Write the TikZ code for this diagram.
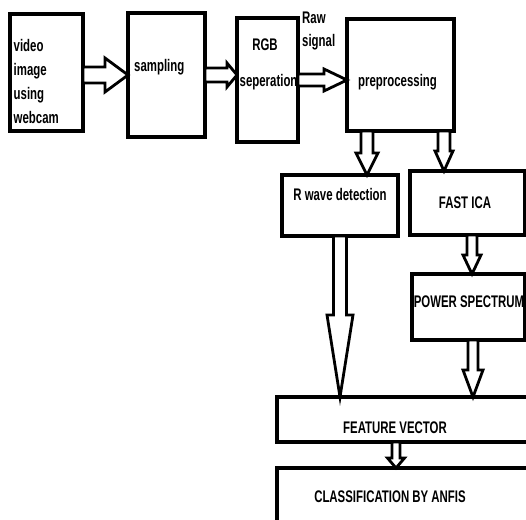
\documentclass[tikz,border=0pt]{standalone}
\usepackage{fontspec}
\setmainfont{Liberation Sans}[FakeStretch=0.68]
\usetikzlibrary{calc}
\newcommand\rblock[5]{% start, end, shaft half, head half, head length
  \draw[barrow] let \p1=#1, \p2=#2 in
    (\x1,\y1+#3) -- (\x2-#5,\y1+#3) -- (\x2-#5,\y1+#4) -- (\x2,\y1) --
    (\x2-#5,\y1-#4) -- (\x2-#5,\y1-#3) -- (\x1,\y1-#3) -- cycle;}
\newcommand\dblock[5]{% start, end, shaft half, head half, head length
  \draw[barrow] let \p1=#1, \p2=#2 in
    (\x1-#3,\y1) -- (\x1-#3,\y2+#5) -- (\x1-#4,\y2+#5) -- (\x1,\y2) --
    (\x1+#4,\y2+#5) -- (\x1+#3,\y2+#5) -- (\x1+#3,\y1) -- cycle;}
\tikzset{
  box/.style={draw=black, line width=3.3pt, rectangle, outer sep=0pt, inner sep=0pt},
  lbl/.style={font=\fontsize{16.8}{24.3}\selectfont\bfseries, inner sep=0pt, text=black},
  barrow/.style={draw=black, fill=white, line width=2.8pt, line join=miter},
}
\begin{document}
\begin{tikzpicture}[x=1pt,y=-1pt]
\useasboundingbox (0,0) rectangle (526,519);
\clip (0,0) rectangle (526,519);
\fill[white] (0,0) rectangle (526,519);
% texts
\node[lbl, anchor=west, align=left] (tvid) at (13.5,81.5) {video\\image\\using\\webcam};
\node[lbl, anchor=west] (tsamp) at (134,67) {sampling};
\node[lbl] (trgb) at (265,45) {RGB};
\node[lbl, anchor=west] (tsep) at (239.5,82) {seperation};
\node[lbl, anchor=west, align=left, font=\fontsize{16.8}{23}\selectfont\bfseries] (traw) at (302,31.5) {Raw\\signal};
\node[lbl, anchor=west] (tpre) at (358,82) {preprocessing};
\node[lbl] (trw) at (340,194) {R wave detection};
\node[lbl] (tica) at (465,203) {FAST ICA};
\node[lbl] (tpow) at (469,302) {POWER SPECTRUM};
\node[lbl] (tfv) at (395,428) {FEATURE VECTOR};
\node[lbl] (tcls) at (390,497) {CLASSIFICATION BY ANFIS};
% boxes
\node[box, minimum width=73pt, minimum height=117pt] (vid) at (46.5,72.5) {};
\node[box, minimum width=77pt, minimum height=124pt] (samp) at (166.5,75) {};
\node[box, minimum width=61pt, minimum height=124pt] (rgb) at (267.5,80) {};
\node[box, minimum width=107pt, minimum height=112pt] (pre) at (400.5,75) {};
\node[box, minimum width=116pt, minimum height=61pt] (rwave) at (340,205.5) {};
\node[box, minimum width=115pt, minimum height=64pt] (ica) at (467.5,203) {};
\node[box, minimum width=113pt, minimum height=66pt] (power) at (468.5,307) {};
\node[box, minimum width=258pt, minimum height=45pt] (fv) at (406,419.5) {};
\node[box, minimum width=258pt, minimum height=62pt] (cls) at (406,499) {};
% block arrows
\rblock{(vid.east |- 0,75)}{(samp.west |- 0,75)}{8pt}{17pt}{23pt}
\rblock{(samp.east |- 0,75)}{(rgb.west |- 0,75)}{7pt}{12pt}{10pt}
\rblock{(rgb.east |- 0,80)}{(pre.west |- 0,80)}{6pt}{11pt}{23pt}
\dblock{(pre.south -| 367,0)}{(rwave.north -| 367,0)}{6pt}{11pt}{22pt}
\dblock{(pre.south -| 444,0)}{(ica.north -| 444,0)}{6pt}{9pt}{20pt}
\dblock{(ica.south -| 472,0)}{(power.north -| 472,0)}{5pt}{9pt}{19pt}
\dblock{(rwave.south -| 340,0)}{(fv.north -| 340,0)}{6.5pt}{13pt}{82pt}
\dblock{(power.south -| 473,0)}{(fv.north -| 473,0)}{5pt}{10pt}{27pt}
\dblock{(fv.south -| 396,0)}{(cls.north -| 396,0)}{4pt}{8.5pt}{10pt}
\end{tikzpicture}
\end{document}
